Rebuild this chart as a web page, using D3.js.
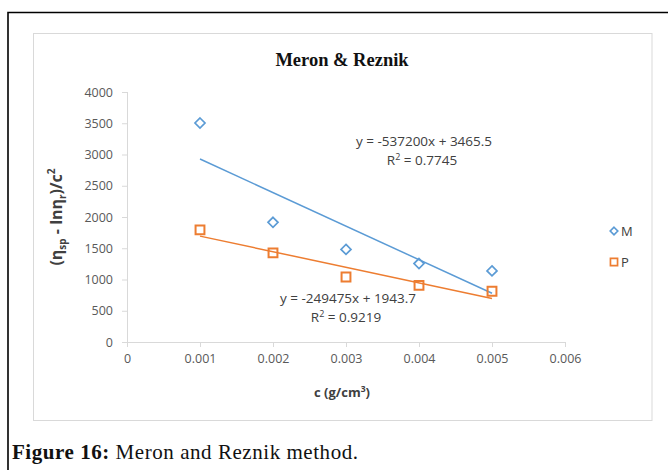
<!DOCTYPE html>
<html>
<head>
<meta charset="utf-8">
<script src="https://cdn.jsdelivr.net/npm/d3@7"></script>
<style>
  html, body { margin: 0; padding: 0; background: #fff; }
  svg { display: block; }
</style>
</head>
<body>
<svg id="chart" width="668" height="470"></svg>
<script>
// Concentrations (g/cm³)
const concentrations = [0.001, 0.002, 0.003, 0.004, 0.005];
// Reduced viscosity difference for each series
const seriesM = [3504, 1915, 1482, 1255, 1138];
const seriesP = [1795, 1425, 1040, 905, 812];
// Linear trend lines (slope, intercept) and fit quality
const trendM = { slope: -537200, intercept: 3465.5, r2: "0.7745" };
const trendP = { slope: -249475, intercept: 1943.7, r2: "0.9219" };
// Axis ticks
const xTicks = [0, 0.001, 0.002, 0.003, 0.004, 0.005, 0.006];
const yTicks = [0, 500, 1000, 1500, 2000, 2500, 3000, 3500, 4000];
const seriesNames = ["M", "P"];

const svg = d3.select("#chart");
const blue = "#5B9BD5", orange = "#ED7D31";

// Outer figure frame (left and top edges)
svg.append("path")
  .attr("d", "M8,470 L8,12.5 L668,12.5")
  .attr("fill", "none").attr("stroke", "#000").attr("stroke-width", 1.6);

// Chart area frame
svg.append("rect")
  .attr("x", 33.5).attr("y", 33.5).attr("width", 618.5).attr("height", 387)
  .attr("fill", "#fff").attr("stroke", "#d9d9d9").attr("stroke-width", 1);

const x = d3.scaleLinear().domain([0, 0.006]).range([127, 565]);
const y = d3.scaleLinear().domain([0, 4000]).range([342, 92]);

// Title
svg.append("text")
  .attr("x", 342).attr("y", 66)
  .attr("text-anchor", "middle")
  .attr("font-family", "'Liberation Serif', 'Times New Roman', serif")
  .attr("font-weight", "bold").attr("font-size", 18.5)
  .attr("fill", "#111")
  .text("Meron & Reznik");

// Axes
const axisFont = "'Open Sans', 'Liberation Sans', sans-serif";
const yAxis = svg.append("g")
  .attr("transform", `translate(${x(0)},0)`)
  .call(d3.axisLeft(y).tickValues(yTicks).tickSize(5).tickPadding(9).tickFormat(d3.format("d")));
const xAxis = svg.append("g")
  .attr("transform", `translate(0,${y(0)})`)
  .call(d3.axisBottom(x).tickValues(xTicks).tickSize(5).tickPadding(7)
    .tickFormat(d => d === 0 ? "0" : d3.format(".3f")(d)));
[yAxis, xAxis].forEach(g => {
  g.select(".domain").attr("stroke", "#d9d9d9");
  g.selectAll(".tick line").attr("stroke", "#d9d9d9");
  g.selectAll(".tick text")
    .attr("fill", "#595959")
    .attr("font-family", axisFont)
    .attr("font-size", 12.5);
});
xAxis.select(".domain").attr("d", `M${x(0)},0.5H${x(0.006)}`);
yAxis.select(".domain").attr("d", `M0.5,${y(4000)}V${y(0)}`);

// Axis titles
const yTitle = svg.append("text")
  .attr("transform", `translate(62,${y(2000)}) rotate(-90)`)
  .attr("text-anchor", "middle")
  .attr("font-family", axisFont)
  .attr("font-weight", "bold").attr("font-size", 16)
  .attr("fill", "#404040");
yTitle.append("tspan").text("(η");
yTitle.append("tspan").attr("font-size", 10).attr("dy", 4).text("sp");
yTitle.append("tspan").attr("dy", -4).text(" - lnη");
yTitle.append("tspan").attr("font-size", 10).attr("dy", 4).text("r");
yTitle.append("tspan").attr("dy", -4).text(")/c");
yTitle.append("tspan").attr("font-size", 10).attr("dy", -7).text("2");

const xTitle = svg.append("text")
  .attr("x", 342).attr("y", 397)
  .attr("text-anchor", "middle")
  .attr("font-family", axisFont)
  .attr("font-weight", "bold").attr("font-size", 13)
  .attr("fill", "#404040");
xTitle.append("tspan").text("c (g/cm");
xTitle.append("tspan").attr("font-size", 8.5).attr("dy", -5).text("3");
xTitle.append("tspan").attr("dy", 5).text(")");

// Trend lines
function trendLine(t, color) {
  const pts = [concentrations[0], concentrations[concentrations.length - 1]]
    .map(c => [x(c), y(t.slope * c + t.intercept)]);
  svg.append("path")
    .attr("d", d3.line()(pts))
    .attr("stroke", color).attr("stroke-width", 1.5).attr("fill", "none");
}
trendLine(trendM, blue);
trendLine(trendP, orange);

// Markers
const diamond = d3.symbol().type(d3.symbolDiamond2).size(64);
const square = d3.symbol().type(d3.symbolSquare2).size(100);
svg.append("g").selectAll("path").data(concentrations).join("path")
  .attr("d", diamond)
  .attr("transform", (c, i) => `translate(${x(c)},${y(seriesM[i])})`)
  .attr("fill", "none").attr("stroke", blue).attr("stroke-width", 1.7);
svg.append("g").selectAll("path").data(concentrations).join("path")
  .attr("d", square)
  .attr("transform", (c, i) => `translate(${x(c)},${y(seriesP[i])})`)
  .attr("fill", "none").attr("stroke", orange).attr("stroke-width", 2);

// Equation labels
function equation(t, cx, cy) {
  const g = svg.append("g")
    .attr("font-family", axisFont).attr("font-size", 13.5)
    .attr("fill", "#404040").attr("text-anchor", "middle");
  const fmt = v => (v < 0 ? "-" : "") + Math.abs(v);
  g.append("text").attr("x", cx).attr("y", cy)
    .text(`y = ${fmt(t.slope)}x + ${t.intercept}`);
  const r = g.append("text").attr("x", cx - 2).attr("y", cy + 19);
  r.append("tspan").text("R");
  r.append("tspan").attr("font-size", 9).attr("dy", -5).text("2");
  r.append("tspan").attr("dy", 5).text(` = ${t.r2}`);
}
equation(trendM, 424, 146);
equation(trendP, 348, 303);

// Legend
const legend = svg.append("g").attr("font-family", axisFont).attr("font-size", 13).attr("fill", "#404040");
seriesNames.forEach((name, i) => {
  const ly = 231 + i * 31;
  legend.append("path")
    .attr("d", i === 0 ? d3.symbol().type(d3.symbolDiamond2).size(36)() : d3.symbol().type(d3.symbolSquare2).size(64)())
    .attr("transform", `translate(614,${ly})`)
    .attr("fill", "none").attr("stroke", i === 0 ? blue : orange).attr("stroke-width", 1.7);
  legend.append("text").attr("x", 621).attr("y", ly + 5).text(name);
});

// Caption
const cap = svg.append("text")
  .attr("x", 12).attr("y", 459)
  .attr("font-family", "'Liberation Serif', 'Times New Roman', serif")
  .attr("font-size", 21).attr("fill", "#111")
  .attr("textLength", 346).attr("lengthAdjust", "spacing");
cap.append("tspan").attr("font-weight", "bold").text("Figure 16:");
cap.append("tspan").text(" Meron and Reznik method.");
</script>
</body>
</html>
